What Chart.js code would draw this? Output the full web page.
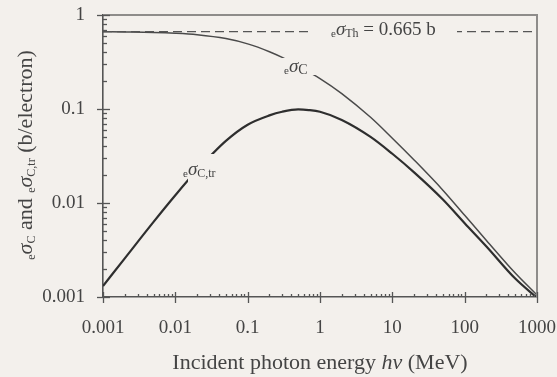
<!DOCTYPE html>
<html>
<head>
<meta charset="utf-8">
<script src="https://cdn.jsdelivr.net/npm/chart.js@4.4.1/dist/chart.umd.min.js"></script>
<style>
  html, body { margin: 0; padding: 0; background: #f3f0ec; }
  #chartDiv { width: 557px; height: 377px; }
</style>
</head>
<body>
<div id="chartDiv"><canvas id="myChart"></canvas></div>
<script>
const canvas = document.getElementById('myChart');

// photon energy (MeV) and cross sections (b/electron)
const energies = [0.001, 0.002, 0.005, 0.01, 0.02, 0.05, 0.1, 0.2, 0.3, 0.5, 0.7, 1, 2, 5, 10, 20, 50, 100, 200, 500, 1000];
const sigmaC = [0.663, 0.660, 0.653, 0.640, 0.617, 0.561, 0.493, 0.407, 0.354, 0.289, 0.247, 0.211, 0.146, 0.0816, 0.0489, 0.0287, 0.0137, 0.0074, 0.0040, 0.00180, 0.00105];
const sigmaCtr = [0.00131, 0.00258, 0.0063, 0.0121, 0.0224, 0.0458, 0.0681, 0.0855, 0.0935, 0.0990, 0.0975, 0.0935, 0.0765, 0.0505, 0.0334, 0.0212, 0.0109, 0.0061, 0.00345, 0.00157, 0.00098];
const thomsonX = [0.001, 1000];
const thomson = 0.665;

const xTicks = [0.001, 0.01, 0.1, 1, 10, 100, 1000];
const xTickLabels = ['0.001', '0.01', '0.1', '1', '10', '100', '1000'];
const yTicks = [0.001, 0.01, 0.1, 1];
const yTickLabels = ['0.001', '0.01', '0.1', '1'];

const BG = '#f3f0ec';
const INK = '#444';
const SERIF = "'Liberation Serif', 'DejaVu Serif', serif";

const isDecade = v => Math.abs(Math.log10(v) - Math.round(Math.log10(v))) < 1e-6;

function minorTicks(decades) {
    const out = [];
    for (let i = 0; i < decades.length - 1; i++) {
        for (let m = 1; m < 10; m++) out.push(+(decades[i] * m).toPrecision(6));
    }
    out.push(decades[decades.length - 1]);
    return out.map(v => ({ value: v }));
}

function labelFor(v, ticks, labels) {
    const i = ticks.findIndex(t => Math.abs(t - v) / t < 1e-6);
    return i >= 0 ? labels[i] : '';
}

// draw text made of pieces: [text, font, dy]
function drawRich(ctx, x, y, parts, align) {
    let w = 0;
    parts.forEach(p => { ctx.font = p[1]; w += ctx.measureText(p[0]).width; });
    let cx = align === 'center' ? x - w / 2 : x;
    parts.forEach(p => {
        ctx.font = p[1];
        ctx.fillText(p[0], cx, y + (p[2] || 0));
        cx += ctx.measureText(p[0]).width;
    });
    return w;
}

const f = (size, style) => (style ? style + ' ' : '') + size + 'px ' + SERIF;

const decoPlugin = {
    id: 'deco',
    afterDatasetsDraw(chart) {
        const { ctx, chartArea: a, scales: { x, y } } = chart;
        ctx.save();

        // curve labels, with a background patch that breaks the line
        ctx.fillStyle = BG;
        ctx.fillRect(281, 58, 35, 17);
        ctx.fillRect(188, 154, 26, 28);
        ctx.fillRect(309, 23, 148, 16);

        ctx.fillStyle = INK;
        ctx.textBaseline = 'alphabetic';
        drawRich(ctx, 284, 74, [['e', f(11)], ['σ', f(19, 'italic'), -2], ['C', f(14), 0]]);
        drawRich(ctx, 183, 177, [['e', f(11)], ['σ', f(19, 'italic'), -2], ['C,tr', f(12), 0]]);
        drawRich(ctx, 331, 37, [['e', f(11)], ['σ', f(19, 'italic'), -2], ['Th', f(12), 0], [' = 0.665 b', f(19), -2]]);

        // frame
        ctx.strokeStyle = '#8e8c8a';
        ctx.lineWidth = 2;
        ctx.beginPath();
        ctx.moveTo(a.left, a.top);
        ctx.lineTo(a.right, a.top);
        ctx.lineTo(a.right, a.bottom);
        ctx.stroke();

        // tick marks
        ctx.strokeStyle = '#555';
        ctx.lineWidth = 1.3;
        x.ticks.forEach(t => {
            const px = Math.round(x.getPixelForValue(t.value)) + 0.5;
            const major = isDecade(t.value);
            ctx.beginPath();
            ctx.moveTo(px, a.bottom + (major ? 6 : 0));
            ctx.lineTo(px, a.bottom - (major ? 5 : 3));
            ctx.stroke();
        });
        y.ticks.forEach(t => {
            const py = Math.round(y.getPixelForValue(t.value)) + 0.5;
            const major = isDecade(t.value);
            ctx.beginPath();
            ctx.moveTo(a.left - (major ? 6 : 0), py);
            ctx.lineTo(a.left + (major ? 7 : 4), py);
            ctx.stroke();
        });

        // axis titles
        ctx.fillStyle = INK;
        ctx.textBaseline = 'middle';
        drawRich(ctx, 320, 363, [
            ['Incident photon energy ', f(22)], ['hν', f(22, 'italic')], [' (MeV)', f(22)]
        ], 'center');

        ctx.translate(26, 155);
        ctx.rotate(-Math.PI / 2);
        drawRich(ctx, 0, 0, [
            ['e', f(12), 6], ['σ', f(22, 'italic')], ['C', f(12), 6],
            [' and ', f(22)],
            ['e', f(12), 6], ['σ', f(22, 'italic')], ['C,tr', f(12), 6],
            [' (b/electron)', f(22)]
        ], 'center');

        ctx.restore();
    }
};

const config = {
    type: 'line',
    data: {
        datasets: [{
            label: 'Thomson',
            data: thomsonX.map(e => ({ x: e, y: thomson })),
            borderColor: '#555',
            borderWidth: 1.3,
            borderDash: [9, 5],
            pointRadius: 0
        }, {
            label: 'sigma_C',
            data: energies.map((e, i) => ({ x: e, y: sigmaC[i] })),
            borderColor: '#4a4a4a',
            borderWidth: 1.5,
            pointRadius: 0,
            cubicInterpolationMode: 'monotone'
        }, {
            label: 'sigma_C,tr',
            data: energies.map((e, i) => ({ x: e, y: sigmaCtr[i] })),
            borderColor: '#2e2e2e',
            borderWidth: 2.2,
            pointRadius: 0,
            cubicInterpolationMode: 'monotone'
        }]
    },
    options: {
        responsive: true,
        maintainAspectRatio: false,
        animation: false,
        layout: { padding: { left: 0, top: 15, right: 20, bottom: 0 } },
        plugins: { legend: { display: false }, tooltip: { enabled: false } },
        scales: {
            x: {
                type: 'logarithmic',
                min: 0.001,
                max: 1000,
                afterBuildTicks: s => { s.ticks = minorTicks(xTicks); },
                afterFit: s => { s.height = 80; s.paddingLeft = 0; s.paddingRight = 0; },
                grid: { display: false, drawTicks: false },
                border: { display: true, color: '#555', width: 1.6 },
                ticks: {
                    autoSkip: false,
                    maxRotation: 0,
                    padding: 20,
                    color: INK,
                    font: { family: SERIF, size: 19 },
                    callback: v => labelFor(v, xTicks, xTickLabels)
                }
            },
            y: {
                type: 'logarithmic',
                min: 0.001,
                max: 1,
                afterBuildTicks: s => { s.ticks = minorTicks(yTicks); },
                afterFit: s => { s.width = 103; s.paddingTop = 0; s.paddingBottom = 0; },
                grid: { display: false, drawTicks: false },
                border: { display: true, color: '#555', width: 1.6 },
                ticks: {
                    autoSkip: false,
                    padding: 18,
                    color: INK,
                    font: { family: SERIF, size: 19 },
                    callback: v => labelFor(v, yTicks, yTickLabels)
                }
            }
        }
    },
    plugins: [decoPlugin]
};

const myChart = new Chart(canvas, config);
</script>
</body>
</html>
